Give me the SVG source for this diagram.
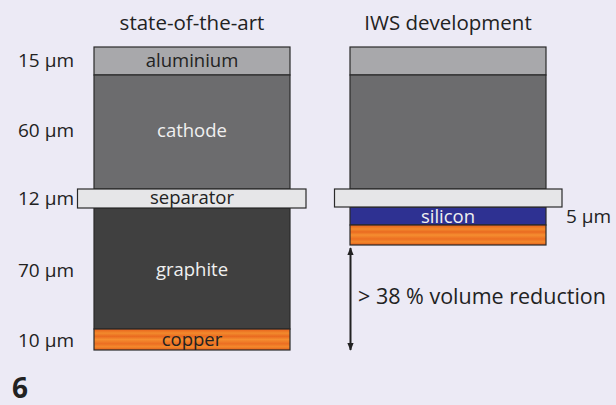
<svg xmlns="http://www.w3.org/2000/svg" width="616" height="405" viewBox="0 0 616 405">
<style>
.t{font-family:"Open Sans","Noto Sans","Liberation Sans",sans-serif;font-size:19px;fill:#222}
.h{font-size:20.5px;text-anchor:middle}
.c{text-anchor:middle;font-size:18.5px}
.w{fill:#f0f0f0}
.l{stroke:#2a2a2a;stroke-width:1.2}
</style>
<defs>
<linearGradient id="cu" x1="0" y1="0" x2="0" y2="1">
<stop offset="0" stop-color="#e8601c"/>
<stop offset="0.2" stop-color="#f28a2c"/>
<stop offset="0.35" stop-color="#ea6a20"/>
<stop offset="0.5" stop-color="#f58e30"/>
<stop offset="0.7" stop-color="#ec6e22"/>
<stop offset="0.85" stop-color="#f48a2c"/>
<stop offset="1" stop-color="#e05a1a"/>
</linearGradient>
<marker id="ah" viewBox="0 0 10 10" refX="9" refY="5" markerWidth="8" markerHeight="8" orient="auto-start-reverse" markerUnits="userSpaceOnUse">
<path d="M0,1 L10,5 L0,9 Z" fill="#222"/>
</marker>
</defs>
<rect width="616" height="405" fill="#eceaf5"/>
<text class="t h" x="192" y="30">state-of-the-art</text>
<text class="t h" x="448" y="30">IWS development</text>
<g id="labels">
<text class="t" x="18" y="67">15 µm</text>
<text class="t" x="18" y="137">60 µm</text>
<text class="t" x="18" y="205">12 µm</text>
<text class="t" x="18" y="277">70 µm</text>
<text class="t" x="18" y="347">10 µm</text>
<text class="t" x="566" y="223">5 µm</text>
</g>
<g id="left">
<g id="al1"><rect class="l" x="94" y="47" width="196" height="28" fill="#a8a8ab"/><text class="t c" x="192" y="67">aluminium</text></g>
<g id="cat1"><rect class="l" x="94" y="75" width="196" height="114" fill="#6c6c6e"/><text class="t c w" x="192" y="137">cathode</text></g>
<g id="gr1"><rect class="l" x="94" y="208" width="196" height="121" fill="#404040"/><text class="t c w" x="192" y="276">graphite</text></g>
<g id="cu1"><rect class="l" x="94" y="329" width="196" height="21" fill="url(#cu)"/><text class="t c" x="192" y="346">copper</text></g>
<g id="sep1"><rect class="l" x="77.5" y="189" width="228.5" height="19" fill="#e6e6e8"/><text class="t c" x="192" y="204">separator</text></g>
</g>
<g id="right">
<g id="al2"><rect class="l" x="350" y="47" width="196" height="28" fill="#a8a8ab"/></g>
<g id="cat2"><rect class="l" x="350" y="75" width="196" height="114" fill="#6c6c6e"/></g>
<g id="si2"><rect class="l" x="350" y="207" width="196" height="18" fill="#2e3192"/><text class="t c w" x="448" y="223">silicon</text></g>
<g id="cu2"><rect class="l" x="350" y="225" width="196" height="20" fill="url(#cu)"/></g>
<g id="sep2"><rect class="l" x="334.5" y="189" width="227.5" height="18" fill="#e6e6e8"/></g>
</g>
<g id="connectors">
<line x1="350.5" y1="248" x2="350.5" y2="350" stroke="#222" stroke-width="2" marker-start="url(#ah)" marker-end="url(#ah)"/>
</g>
<text class="t" x="358" y="304" style="font-size:21.5px">&gt; 38 % volume reduction</text>
<text x="12" y="398" style="font-family:'Open Sans','Liberation Sans',sans-serif;font-weight:bold;font-size:28px;fill:#222">6</text>
</svg>
